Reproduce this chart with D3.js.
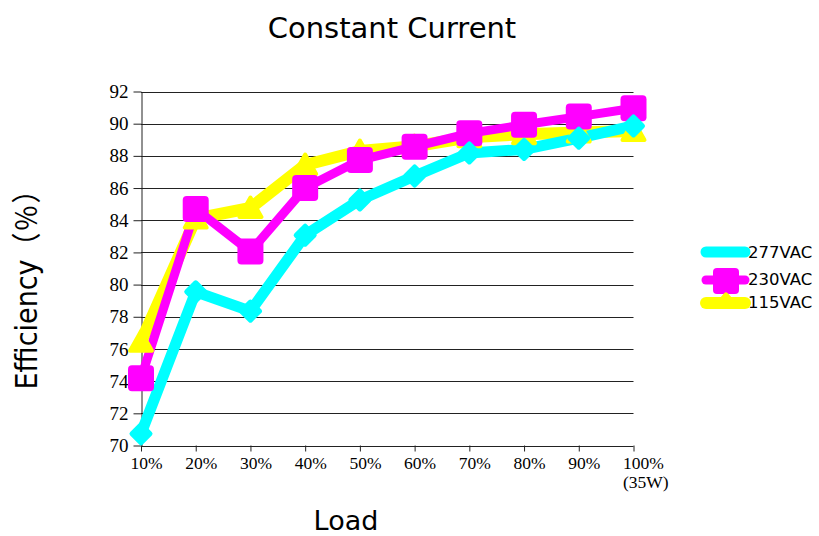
<!DOCTYPE html>
<html><head><meta charset="utf-8">
<script src="https://cdn.jsdelivr.net/npm/d3@7"></script>
<style>body{margin:0;background:#fff}</style>
</head><body>
<script>
const categories = ["10%","20%","30%","40%","50%","60%","70%","80%","90%","100%"];
const lastNote = "(35W)";
const yTicks = [70,72,74,76,78,80,82,84,86,88,90,92];
const seriesNames = ["277VAC","230VAC","115VAC"];
const s277 = [70.73, 79.55, 78.35, 83.07, 85.26, 86.75, 88.18, 88.4, 89.1, 89.86];
const s230 = [74.18, 84.7, 82.05, 86.0, 87.74, 88.57, 89.4, 89.93, 90.44, 90.96];
const s115 = [76.45, 84.1, 84.76, 87.43, 88.3, 88.6, 89.15, 89.35, 89.45, 89.55];
const colors = {"277VAC":"#00ffff","230VAC":"#ff00ff","115VAC":"#ffff00"};

const W=819,H=536;
const svg=d3.select("body").append("svg").attr("width",W).attr("height",H);
const x=d3.scalePoint().domain(categories).range([141,633.5]);
const y=d3.scaleLinear().domain([70,92]).range([445.5,91.5]);

// gridlines
svg.append("g").selectAll("line").data(yTicks).join("line")
  .attr("x1",141).attr("x2",633.5)
  .attr("y1",d=>Math.round(y(d))+0.5).attr("y2",d=>Math.round(y(d))+0.5)
  .attr("stroke","#222").attr("stroke-width",1);

// y axis
const ya=svg.append("g").attr("transform","translate(141.5,0)")
  .call(d3.axisLeft(y).tickValues(yTicks).tickSize(8).tickSizeOuter(0).tickPadding(5));
ya.select(".domain").attr("stroke","#222");
ya.selectAll(".tick line").attr("stroke","#222");
ya.selectAll("text").attr("font-family","'Liberation Serif',serif").attr("font-size",19).attr("fill","#000");

// x axis
const xa=svg.append("g").attr("transform","translate(0,445.5)")
  .call(d3.axisBottom(x).tickSize(6).tickSizeOuter(0).tickPadding(5));
xa.select(".domain").remove();
xa.selectAll(".tick line").attr("stroke","#222");
xa.selectAll("text").attr("font-family","'Liberation Serif',serif").attr("font-size",17.5).attr("fill","#000")
  .attr("text-anchor","start").attr("x",-11);
xa.selectAll(".tick").filter(d=>d===categories[categories.length-1]).append("text")
  .attr("x",-11).attr("y",42.5).attr("text-anchor","start")
  .attr("font-family","'Liberation Serif',serif").attr("font-size",17.5).attr("fill","#000")
  .text(lastNote);

const series=[
  {name:"115VAC",values:s115,width:12},
  {name:"230VAC",values:s230,width:9},
  {name:"277VAC",values:s277,width:11}
];
const line=d3.line().x((d,i)=>x(categories[i])).y(d=>y(d));
svg.append("g").selectAll("path").data(series).join("path")
  .attr("d",d=>line(d.values)).attr("fill","none")
  .attr("stroke",d=>colors[d.name]).attr("stroke-width",d=>d.width)
  .attr("stroke-linejoin","round").attr("stroke-linecap","round");

function marker(g,name,cx,cy){
  const c=colors[name];
  if(name==="277VAC"){
    g.append("path").attr("d",`M${cx},${cy-9}L${cx+9},${cy}L${cx},${cy+9}L${cx-9},${cy}Z`)
      .attr("fill",c).attr("stroke",c).attr("stroke-width",5).attr("stroke-linejoin","round");
  } else if(name==="230VAC"){
    g.append("rect").attr("x",cx-13).attr("y",cy-13).attr("width",26).attr("height",26).attr("rx",4)
      .attr("fill",c);
  } else {
    g.append("path").attr("d",`M${cx},${cy-10.5}L${cx+11},${cy+9}L${cx-11},${cy+9}Z`)
      .attr("fill",c).attr("stroke",c).attr("stroke-width",4).attr("stroke-linejoin","round");
  }
}
const mg=svg.append("g");
series.forEach(s=>s.values.forEach((v,i)=>marker(mg,s.name,x(categories[i]),y(v))));

// legend
const leg=[{name:"277VAC",ly:252,ty:258,m:false,w:11},{name:"230VAC",ly:280,ty:285,m:true,w:9},{name:"115VAC",ly:303,ty:308,m:true,w:12}];
const lg=svg.append("g");
leg.forEach(l=>{
  lg.append("line").attr("x1",706).attr("x2",745).attr("y1",l.ly).attr("y2",l.ly)
    .attr("stroke",colors[l.name]).attr("stroke-width",l.w).attr("stroke-linecap","round");
  if(l.m){
    if(l.name==="230VAC") marker(lg,l.name,726,281);
    else lg.append("path").attr("d",`M726,295L734,304L718,304Z`).attr("fill",colors[l.name])
      .attr("stroke",colors[l.name]).attr("stroke-width",5).attr("stroke-linejoin","round");
  }
  lg.append("text").attr("x",748).attr("y",l.ty).attr("font-family","'DejaVu Sans',sans-serif")
    .attr("font-size",16.5).attr("fill","#000").text(l.name);
});

// titles
svg.append("text").attr("x",392).attr("y",38).attr("text-anchor","middle")
  .attr("font-family","'DejaVu Sans',sans-serif").attr("font-size",29).attr("fill","#000").text("Constant Current");
svg.append("text").attr("x",346).attr("y",530).attr("text-anchor","middle")
  .attr("font-family","'DejaVu Sans',sans-serif").attr("font-size",27).attr("fill","#000").text("Load");
const yt=svg.append("text").attr("transform","translate(37,282) scale(1.1,1) rotate(-90)").attr("text-anchor","middle")
  .attr("font-family","'DejaVu Sans','Noto Sans CJK SC',sans-serif").attr("font-size",27).attr("fill","#000");
yt.append("tspan").text("Efficiency");
yt.append("tspan").attr("font-family","'Noto Sans CJK SC',sans-serif").attr("letter-spacing",2).text("（%）");
</script>
</body></html>
